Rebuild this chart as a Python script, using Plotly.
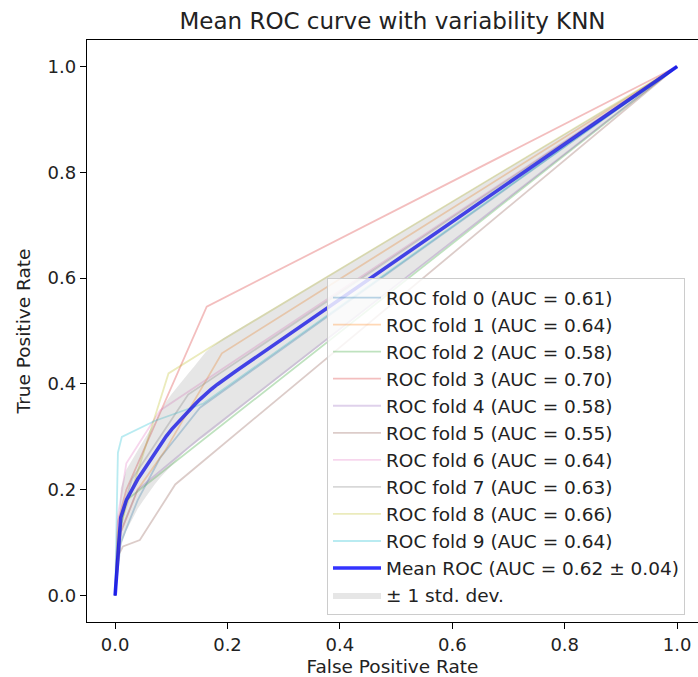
import numpy as np
import plotly.graph_objects as go

# ---- data ----
fold_names = [f"ROC fold {i}" for i in range(10)]
fold_aucs = [0.61, 0.64, 0.58, 0.70, 0.58, 0.55, 0.64, 0.63, 0.66, 0.64]

fpr_0 = [0.0, 0.01, 0.04, 0.08, 0.151, 1.0]
tpr_0 = [0.0, 0.10, 0.18, 0.26, 0.355, 1.0]
fpr_1 = [0.0, 0.01, 0.04, 0.089, 0.19, 1.0]
tpr_1 = [0.0, 0.12, 0.20, 0.274, 0.458, 1.0]
fpr_2 = [0.0, 0.005, 0.02, 1.0]
tpr_2 = [0.0, 0.10, 0.18, 1.0]
fpr_3 = [0.0, 0.005, 0.02, 0.163, 1.0]
tpr_3 = [0.0, 0.14, 0.20, 0.546, 1.0]
fpr_4 = [0.0, 0.01, 0.04, 0.15, 1.0]
tpr_4 = [0.0, 0.12, 0.20, 0.297, 1.0]
fpr_5 = [0.0, 0.003, 0.014, 0.044, 0.107, 1.0]
tpr_5 = [0.0, 0.07, 0.093, 0.105, 0.21, 1.0]
fpr_6 = [0.0, 0.005, 0.02, 0.08, 1.0]
tpr_6 = [0.0, 0.15, 0.25, 0.35, 1.0]
fpr_7 = [0.0, 0.01, 0.03, 0.13, 1.0]
tpr_7 = [0.0, 0.15, 0.22, 0.38, 1.0]
fpr_8 = [0.0, 0.005, 0.03, 0.095, 0.17, 1.0]
tpr_8 = [0.0, 0.12, 0.20, 0.42, 0.47, 1.0]
fpr_9 = [0.0, 0.003, 0.005, 0.012, 0.07, 0.157, 1.0]
tpr_9 = [0.0, 0.15, 0.27, 0.30, 0.33, 0.363, 1.0]

fold_fprs = [fpr_0, fpr_1, fpr_2, fpr_3, fpr_4, fpr_5, fpr_6, fpr_7, fpr_8, fpr_9]
fold_tprs = [tpr_0, tpr_1, tpr_2, tpr_3, tpr_4, tpr_5, tpr_6, tpr_7, tpr_8, tpr_9]

mean_auc = 0.62
std_auc = 0.04

x_ticks = [0.0, 0.2, 0.4, 0.6, 0.8, 1.0]
y_ticks = [0.0, 0.2, 0.4, 0.6, 0.8, 1.0]

colors = ["#1f77b4", "#ff7f0e", "#2ca02c", "#d62728", "#9467bd",
          "#8c564b", "#e377c2", "#7f7f7f", "#bcbd22", "#17becf"]

# ---- mean / std computed from the folds ----
mean_fpr = np.linspace(0, 1, 100)
tprs = []
for f, t in zip(fold_fprs, fold_tprs):
    it = np.interp(mean_fpr, f, t)
    it[0] = 0.0
    tprs.append(it)
mean_tpr = np.mean(tprs, axis=0)
mean_tpr[-1] = 1.0
std_tpr = np.std(tprs, axis=0)
upper = np.minimum(mean_tpr + std_tpr, 1)
lower = np.maximum(mean_tpr - std_tpr, 0)

FONT = "DejaVu Sans"
fig = go.Figure()

def hexa(h, a):
    h = h.lstrip("#")
    return f"rgba({int(h[0:2],16)},{int(h[2:4],16)},{int(h[4:6],16)},{a})"

for i in range(10):
    fig.add_trace(go.Scatter(
        x=fold_fprs[i], y=fold_tprs[i], mode="lines",
        line=dict(color=hexa(colors[i], 0.3), width=1.8),
        name=f"{fold_names[i]} (AUC = {fold_aucs[i]:.2f})"))

fig.add_trace(go.Scatter(
    x=mean_fpr, y=mean_tpr, mode="lines",
    line=dict(color="rgba(0,0,255,0.8)", width=3.6),
    name=f"Mean ROC (AUC = {mean_auc:.2f} \u00b1 {std_auc:.2f})"))

fig.add_trace(go.Scatter(
    x=mean_fpr, y=lower, mode="lines", line=dict(width=0, color="rgba(0,0,0,0)"),
    showlegend=False, hoverinfo="skip"))
fig.add_trace(go.Scatter(
    x=mean_fpr, y=upper, mode="lines", line=dict(width=0, color="rgba(0,0,0,0)"),
    fill="tonexty", fillcolor="rgba(128,128,128,0.2)",
    name="\u00b1 1 std. dev."))

axis_common = dict(
    showline=True, mirror=True, linecolor="black", linewidth=1.4,
    ticks="outside", ticklen=6, tickwidth=1.4, tickcolor="black",
    showgrid=False, zeroline=False,
    tickfont=dict(family=FONT, size=18, color="#222"),
)

fig.update_layout(
    width=698, height=677,
    margin=dict(l=87, r=0, t=40, b=55),
    paper_bgcolor="white", plot_bgcolor="white",
    font=dict(family=FONT, size=18, color="#222"),
    title=dict(text="Mean ROC curve with variability KNN",
               font=dict(family=FONT, size=23, color="#222"),
               x=392.5 / 698, xanchor="center", y=1 - 21 / 677, yanchor="middle",
               xref="container", yref="container"),
    xaxis=dict(range=[-0.05, -0.05 + 611 / 562], tickvals=x_ticks,
               ticktext=[f"{v:.1f}" for v in x_ticks],
               title=dict(text="False Positive Rate", standoff=6,
                          font=dict(family=FONT, size=18.5, color="#222")),
               **axis_common),
    yaxis=dict(range=[-0.05, -0.05 + 582 / 529], tickvals=y_ticks,
               ticktext=[f"{v:.1f}" for v in y_ticks],
               title=dict(text="True Positive Rate", standoff=12,
                          font=dict(family=FONT, size=18.5, color="#222")),
               **axis_common),
    legend=dict(x=(327 - 87) / 611, y=(622 - 278) / 582, xanchor="left", yanchor="top",
                bgcolor="rgba(255,255,255,0.8)", bordercolor="#cccccc", borderwidth=1,
                font=dict(family=FONT, size=18.5, color="#222"),
                itemwidth=48, tracegroupgap=0, traceorder="normal"),
    showlegend=True,
)

fig.write_html("out.html")
